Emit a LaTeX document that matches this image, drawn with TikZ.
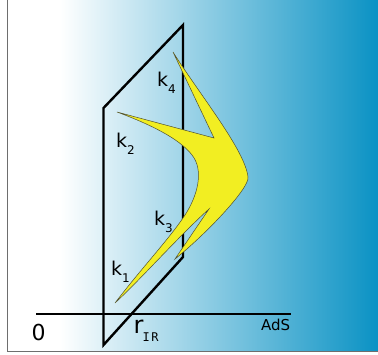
\documentclass[tikz,border=0pt]{standalone}
\usepackage{fontspec}
\setmainfont{DejaVu Sans}
\newfontfamily\monof{DejaVu Sans Mono}
\definecolor{bluedeep}{RGB}{10,146,196}
\definecolor{boomyellow}{RGB}{242,238,34}
\definecolor{boomedge}{RGB}{80,80,50}
\definecolor{framegray}{RGB}{110,110,110}
\tikzset{
  frameline/.style={draw=framegray, line width=1.2pt},
  planeline/.style={draw=black, line width=2.4pt, line join=miter},
  axisline/.style={draw=black, line width=2pt},
  boom/.style={fill=boomyellow, draw=boomedge, line width=0.5pt},
  klab/.style={inner sep=0pt, anchor=base west, font=\fontsize{19}{19}\selectfont},
}
\newcommand{\ksub}[1]{\lower7pt\hbox{\fontsize{12}{12}\selectfont #1}}
\begin{document}
\begin{tikzpicture}[x=1pt,y=-1pt]
\useasboundingbox (0,0) rectangle (378,354);
% background gradient
\fill[white] (7,0) rectangle (60,351);
\shade[left color=white, right color=bluedeep] (60,0) rectangle (378,351);
\draw[frameline] (7.5,0) -- (7.5,351.5) -- (378,351.5);
% axis
\coordinate (ax0) at (36,314);
\coordinate (ax1) at (291,314);
\draw[axisline] (ax0) -- (ax1);
% plane
\coordinate (p1) at (103.5,108);
\coordinate (p2) at (183,25);
\coordinate (p3) at (183,257);
\coordinate (p4) at (103.5,345);
\draw[planeline] (p1) -- (p2) -- (p3) -- (p4) -- cycle;
% boomerang
\path[boom] (115,303)
  .. controls (140,270) and (170,238) .. (185,215)
  .. controls (198,195) and (204,170) .. (192,155)
  .. controls (182,142) and (160,128) .. (117,112)
  -- (214,138)
  -- (173,52)
  .. controls (200,95) and (245,150) .. (248,177)
  .. controls (250,188) and (205,235) .. (175,259)
  -- (209,209)
  .. controls (180,235) and (140,280) .. (115,303)
  -- cycle;
% labels
\node[klab] (k4) at (157,86) {k\ksub{4}};
\node[klab] (k2) at (116,147) {k\ksub{2}};
\node[klab] (k3) at (154,225) {k\ksub{3}};
\node[klab] (k1) at (111,275) {k\ksub{1}};
\node[inner sep=0pt, anchor=base west, font=\fontsize{22}{22}\selectfont] (zero) at (31.5,340.5) {0};
\node[inner sep=0pt, anchor=base west, font=\fontsize{24}{24}\selectfont] (r) at (133.5,333) {r};
\node[inner sep=0pt, anchor=base west, font=\monof\fontsize{12}{12}\selectfont] (ir) at (142.5,341) {I\hspace{1.5pt}R};
\node[inner sep=0pt, anchor=base west, font=\fontsize{15}{15}\selectfont] (ads) at (261,330.5) {AdS};
\end{tikzpicture}
\end{document}
